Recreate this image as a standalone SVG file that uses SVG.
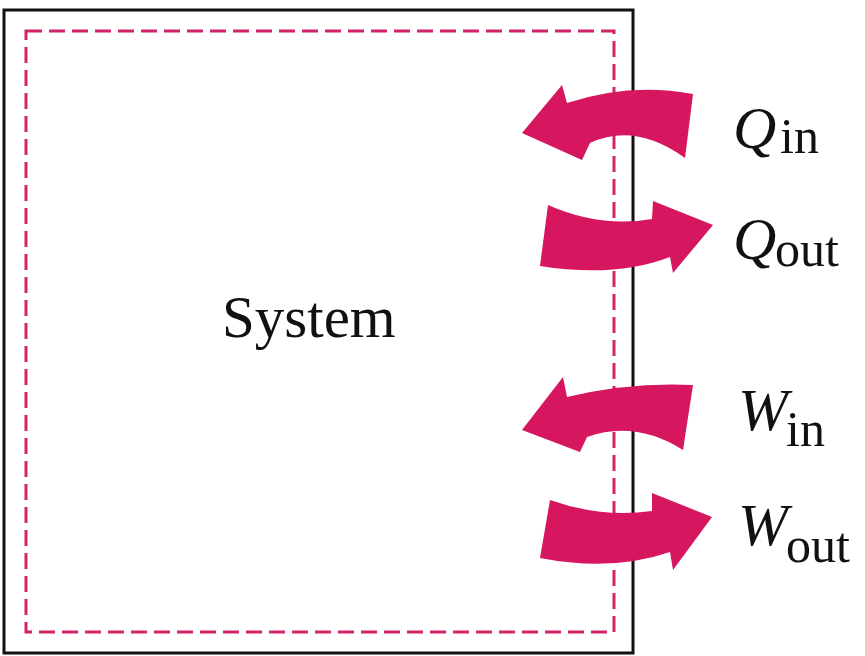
<svg xmlns="http://www.w3.org/2000/svg" width="865" height="656" viewBox="0 0 865 656">
<style>
.frame{fill:none;stroke:#111;stroke-width:3}
.boundary{fill:none;stroke:#d2246a;stroke-width:3;stroke-dasharray:16 7}
.arrow{fill:#d6165f;stroke:none}
.lbl{font-family:"Liberation Serif","Times New Roman",serif;fill:#111}
.main{font-style:italic;font-size:60px}
.sub{font-size:50px}
</style>
<rect x="0" y="0" width="865" height="656" fill="#fff"/>
<g id="system">
<rect class="frame" x="4" y="10" width="629" height="643"/>
<rect class="boundary" x="26" y="31" width="588" height="601"/>
<text class="lbl" x="222" y="337" font-size="59">System</text>
</g>
<g id="connectors">
<path id="q-in-arrow" class="arrow" d="M522,133 L562,85 L567,103 Q630,82 693,94 L685,158 Q635,122 590,143 L582,160 Z"/>
<path id="q-out-arrow" class="arrow" d="M548,205 Q600,228 652,219 L653,201 L713,225 L673,273 L670,257 Q615,278 540,266 Z"/>
<path id="w-in-arrow" class="arrow" d="M522,430 L563,377 L567,397 Q630,382 693,385 L683,450 Q635,420 587,437 L580,452 Z"/>
<path id="w-out-arrow" class="arrow" d="M550,500 Q600,518 652,511 L652,493 L712,517 L673,570 L670,552 Q612,572 540,558 Z"/>
</g>
<g id="q-in">
<text class="lbl main" x="733" y="148">Q</text>
<text class="lbl sub" x="780" y="153">in</text>
</g>
<g id="q-out">
<text class="lbl main" x="733" y="259">Q</text>
<text class="lbl sub" x="775" y="266">out</text>
</g>
<g id="w-in">
<text class="lbl main" x="738" y="430">W</text>
<text class="lbl sub" x="786" y="446">in</text>
</g>
<g id="w-out">
<text class="lbl main" x="738" y="545">W</text>
<text class="lbl sub" x="786" y="562">out</text>
</g>
</svg>
